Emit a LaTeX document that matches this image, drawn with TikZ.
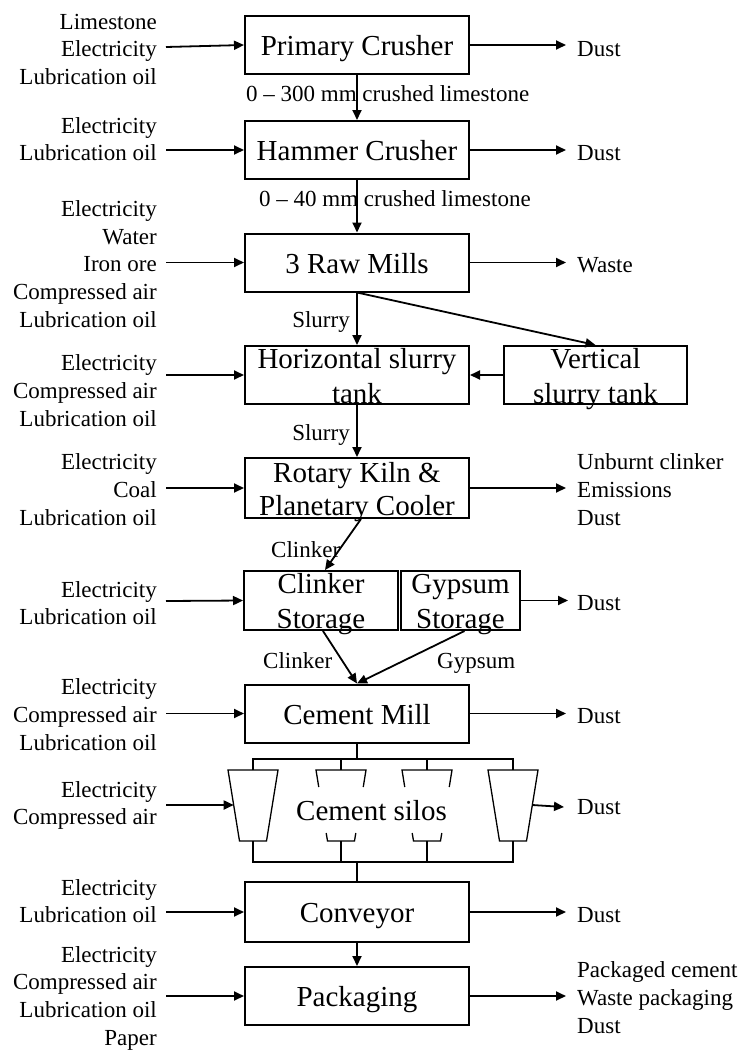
\documentclass[tikz,border=0pt]{standalone}
\usepackage{fontspec}
\setmainfont{Liberation Serif}
\usetikzlibrary{arrows.meta}
\newcommand\bigf{\fontsize{29}{34}\selectfont}
\newcommand\smf{\fontsize{23}{27.6}\selectfont}
\begin{document}
\begin{tikzpicture}[x=1pt,y=-1pt,
  box/.style={draw, line width=2pt, minimum width=224pt, minimum height=58pt,
    inner sep=0pt, font=\bigf, text height=21pt, text depth=0pt},
  btext/.style={font=\bigf, inner sep=0pt, anchor=base},
  lin/.style={font=\smf, inner sep=0pt, align=right, anchor=base east},
  lout/.style={font=\smf, inner sep=0pt, align=left, anchor=base west},
  flow/.style={font=\smf, inner sep=0pt},
  arr/.style={line width=1.8pt, -{Triangle[length=10pt,width=9pt]}},
  pipe/.style={line width=1.3pt},
  thick pipe/.style={line width=1.8pt}]
\path[fill=white, use as bounding box] (0,0) rectangle (742,1050);

% ---------- process boxes ----------
\node[box] (pc) at (357,45) {Primary Crusher};
\node[box] (hc) at (357,150) {Hammer Crusher};
\node[box] (rm) at (357,262.5) {3 Raw Mills};
\node[box] (hst) at (357,375) {};
\node[box, minimum width=183pt] (vst) at (595.5,375) {};
\node[box, minimum height=60pt] (rk) at (357,488) {};
\node[box, minimum width=154pt, minimum height=59pt] (cs) at (321,600.5) {};
\node[box, minimum width=119pt, minimum height=59pt] (gs) at (460.5,600.5) {};
\node[box] (cm) at (357,713.5) {Cement Mill};
\node[box, minimum height=60pt] (cv) at (357,912) {Conveyor};
\node[box] (pk) at (357,996) {Packaging};

% two-line box texts
\node[btext] (hst1) at (357,368) {Horizontal slurry};
\node[btext] (hst2) at (357,403) {tank};
\node[btext] (vst1) at (595.5,368) {Vertical};
\node[btext] (vst2) at (595.5,403) {slurry tank};
\node[btext] (rk1) at (357,482) {Rotary Kiln \&};
\node[btext] (rk2) at (357,515) {Planetary Cooler};
\node[btext] (cs1) at (321,593) {Clinker};
\node[btext] (cs2) at (321,628) {Storage};
\node[btext] (gs1) at (460.5,593) {Gypsum};
\node[btext] (gs2) at (460.5,628) {Storage};

% ---------- silos ----------
\draw[thick pipe] (cm.south) -- (357,759) coordinate (tb);
\draw[pipe] (253,770) -- (253,759) -- (513,759) -- (513,770);
\draw[pipe] (341,759) -- (341,770);
\draw[pipe] (427,759) -- (427,770);
\draw[pipe] (228,770) -- (278,770) -- (266.5,841) -- (239.5,841) -- cycle;
\draw[pipe] (488,770) -- (538,770) -- (526.5,841) -- (499.5,841) -- cycle;
\foreach \c in {341,427}{
  \draw[pipe] (\c-22.25,787) -- (\c-25,770) -- (\c+25,770) -- (\c+22.25,787);
  \draw[pipe] (\c-14.8,833) -- (\c-13.5,841) -- (\c+13.5,841) -- (\c+14.8,833);
}
\draw[pipe] (253,841) -- (253,862) -- (513,862) -- (513,841);
\draw[pipe] (341,841) -- (341,862);
\draw[pipe] (427,841) -- (427,862);
\coordinate (bb) at (357,862);
\draw[thick pipe] (bb) -- (cv.north);
\node[btext] (silos) at (371.5,820) {Cement silos};
\coordinate (s1w) at (233.7,805);
\coordinate (s4e) at (532.3,805);

% ---------- main flow ----------
\draw[arr] (pc.south) -- (hc.north);
\node[flow, anchor=base west] (f1) at (246,101) {0 – 300 mm crushed limestone};
\draw[arr] (hc.south) -- (rm.north);
\node[flow, anchor=base west] (f2) at (259,206) {0 – 40 mm crushed limestone};
\draw[arr] (rm.south) -- (hst.north);
\node[flow, anchor=base east] (f3) at (350,327) {Slurry};
\draw[arr] (rm.south) -- (vst.north);
\draw[arr] (vst.west) -- (hst.east);
\draw[arr] (hst.south) -- (rk.north);
\node[flow, anchor=base east] (f4) at (350,440) {Slurry};
\draw[arr] ([xshift=4pt]rk.south) -- ([xshift=4pt]cs.north);
\node[flow, anchor=base west] (f5) at (271,557) {Clinker};
\draw[arr] ([xshift=2pt]cs.south) -- (cm.north);
\draw[arr] ([xshift=4pt]gs.south) -- (cm.north);
\node[flow, anchor=base west] (f6) at (263,668) {Clinker};
\node[flow, anchor=base west] (f7) at (437,668) {Gypsum};
\draw[arr] (cv.south) -- (pk.north);

% ---------- inputs (anchor = baseline of last line) ----------
\node[lin] (l1) at (157,84.5) {Limestone\\Electricity\\Lubrication oil};
\node[lin] (l2) at (157,160.6) {Electricity\\Lubrication oil};
\node[lin] (l3) at (157,327) {Electricity\\Water\\Iron ore\\Compressed air\\Lubrication oil};
\node[lin] (l4) at (157,426) {Electricity\\Compressed air\\Lubrication oil};
\node[lin] (l5) at (157,525) {Electricity\\Coal\\Lubrication oil};
\node[lin] (l6) at (157,624.6) {Electricity\\Lubrication oil};
\node[lin] (l7) at (157,750) {Electricity\\Compressed air\\Lubrication oil};
\node[lin] (l8) at (157,824.6) {Electricity\\Compressed air};
\node[lin] (l9) at (157,922.6) {Electricity\\Lubrication oil};
\node[lin] (l10) at (157,1045) {Electricity\\Compressed air\\Lubrication oil\\Paper};

\coordinate (i1) at (166,47);
\coordinate (i2) at (166,150);
\coordinate (i3) at (166,262.5);
\coordinate (i4) at (166,375);
\coordinate (i5) at (166,488);
\coordinate (i6) at (166,601);
\coordinate (i7) at (166,713.5);
\coordinate (i8) at (166,805);
\coordinate (i9) at (166,912);
\coordinate (i10) at (166,996);
\draw[arr] (i1) -- (pc.west);
\draw[arr] (i2) -- (hc.west);
\draw[arr] (i3) -- (rm.west);
\draw[arr] (i4) -- (hst.west);
\draw[arr] (i5) -- (rk.west);
\draw[arr] (i6) -- (cs.west);
\draw[arr] (i7) -- (cm.west);
\draw[arr] (i8) -- (s1w);
\draw[arr] (i9) -- (cv.west);
\draw[arr] (i10) -- (pk.west);

% ---------- outputs ----------
\coordinate (o1) at (566,45);
\coordinate (o2) at (566,150);
\coordinate (o3) at (566,262.5);
\coordinate (o5) at (566,488);
\coordinate (o6) at (568,600.5);
\coordinate (o7) at (566,713.5);
\coordinate (o8) at (564,807);
\coordinate (o9) at (566,912);
\coordinate (o10) at (566,996);
\draw[arr] (pc.east) -- (o1);
\draw[arr] (hc.east) -- (o2);
\draw[arr] (rm.east) -- (o3);
\draw[arr] (rk.east) -- (o5);
\draw[arr] (gs.east) -- (o6);
\draw[arr] (cm.east) -- (o7);
\draw[arr] (s4e) -- (o8);
\draw[arr] (cv.east) -- (o9);
\draw[arr] (pk.east) -- (o10);

\node[lout] (r1) at (577,56) {Dust};
\node[lout] (r2) at (577,160.5) {Dust};
\node[lout] (r3) at (577,272) {Waste};
\node[lout] (r5) at (577,525) {Unburnt clinker\\Emissions\\Dust};
\node[lout] (r6) at (577,610) {Dust};
\node[lout] (r7) at (577,723) {Dust};
\node[lout] (r8) at (577,814) {Dust};
\node[lout] (r9) at (577,922) {Dust};
\node[lout] (r10) at (577,1033) {Packaged cement\\Waste packaging\\Dust};
\end{tikzpicture}
\end{document}
